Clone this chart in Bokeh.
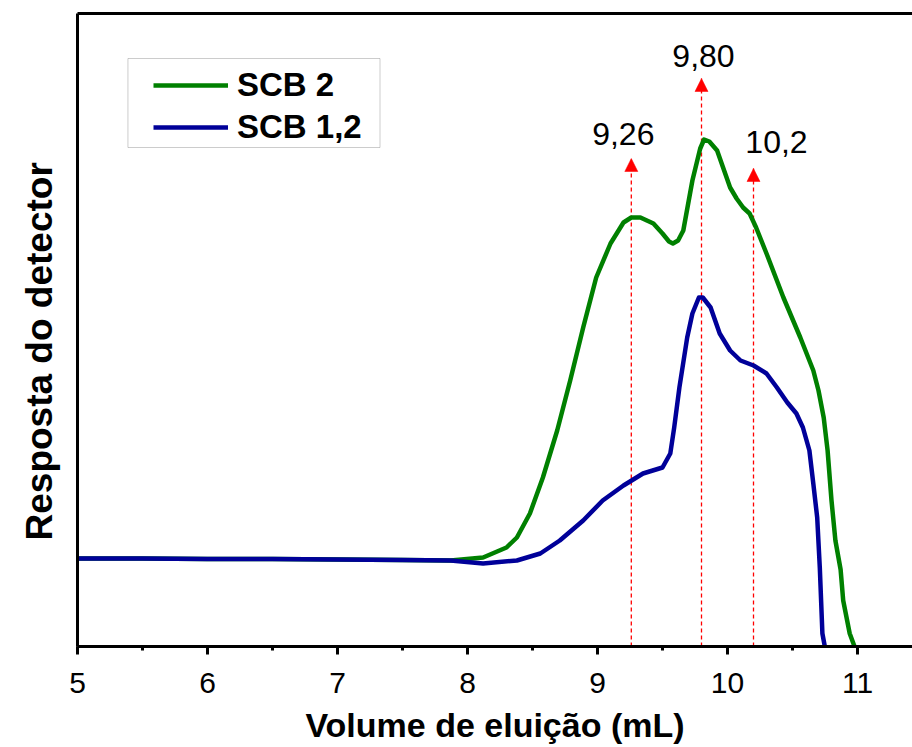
from bokeh.plotting import figure
from bokeh.models import (Legend, LegendItem, LinearAxis, FixedTicker, SingleIntervalTicker,
                          Arrow, NormalHead, Range1d, ColumnDataSource, Title, BoxAnnotation)
from bokeh.core.properties import value
from bokeh.embed import file_html
from bokeh.resources import INLINE

# ---- data ----
green_x = [5.0, 5.5, 6.0, 6.5, 7.0, 7.5, 7.87, 8.12, 8.30, 8.38, 8.48, 8.58, 8.69, 8.79, 8.89,
           8.99, 9.10, 9.20, 9.26, 9.33, 9.43, 9.50, 9.55, 9.58, 9.62, 9.66, 9.73, 9.79, 9.82,
           9.86, 9.92, 10.02, 10.07, 10.12, 10.17, 10.22, 10.30, 10.43, 10.56, 10.66, 10.70,
           10.74, 10.77, 10.80, 10.83, 10.87, 10.89, 10.94, 10.98]
green_y = [0.88, 0.88, 0.875, 0.875, 0.87, 0.865, 0.86, 0.89, 0.99, 1.09, 1.33, 1.69, 2.16, 2.66, 3.19,
           3.69, 4.03, 4.24, 4.29, 4.29, 4.23, 4.13, 4.05, 4.03, 4.06, 4.16, 4.66, 4.98, 5.07,
           5.05, 4.96, 4.59, 4.48, 4.39, 4.33, 4.19, 3.93, 3.49, 3.09, 2.76, 2.56,
           2.29, 1.96, 1.46, 1.06, 0.77, 0.46, 0.13, -0.01]

blue_x = [5.0, 5.5, 6.0, 6.5, 7.0, 7.5, 7.87, 8.12, 8.38, 8.56, 8.71, 8.89, 9.04, 9.20, 9.35,
          9.50, 9.56, 9.59, 9.63, 9.69, 9.73, 9.78, 9.81, 9.87, 9.94, 10.02, 10.10, 10.20,
          10.30, 10.38, 10.46, 10.53, 10.58, 10.63, 10.66, 10.69, 10.71, 10.73, 10.75]
blue_y = [0.88, 0.88, 0.875, 0.875, 0.87, 0.865, 0.86, 0.83, 0.86, 0.93, 1.06, 1.26, 1.46, 1.61, 1.73,
          1.79, 1.93, 2.19, 2.59, 3.09, 3.33, 3.49, 3.49, 3.39, 3.13, 2.96, 2.86, 2.81,
          2.73, 2.59, 2.44, 2.33, 2.19, 1.96, 1.63, 1.29, 0.79, 0.13, -0.01]

series_names = ["SCB 2", "SCB 1,2"]
peak_values = [9.26, 9.80, 10.2]
peak_labels = ["9,26", "9,80", "10,2"]

# annotation layout (arrow tip heights, label placement)
arrow_tops = [4.88, 5.68, 4.78]
label_y = [5.13, 5.91, 5.05]
label_dx = [-8, 2, 23]

FONT = "Liberation Sans"
RED = "#ff0000"

p = figure(width=912, height=747, output_backend="svg", toolbar_location=None,
           x_range=Range1d(5.0, 5.0 + 835 / 130.0), y_range=Range1d(0, 6.33),
           min_border_left=77, min_border_right=0, min_border_top=13, min_border_bottom=101,
           background_fill_color="white", border_fill_color="white")
p.outline_line_color = None
p.grid.visible = False

# peak markers: red dashed lines from the baseline with arrow heads
p.segment(x0=peak_values, y0=[0] * len(peak_values), x1=peak_values, y1=arrow_tops,
          line_color=RED, line_width=1.3, line_dash="4 3")
for xv, top in zip(peak_values, arrow_tops):
    p.add_layout(Arrow(x_start=xv, y_start=top - 0.05, x_end=xv, y_end=top,
                       line_alpha=0,
                       end=NormalHead(size=13, fill_color=RED, line_color=RED, line_width=0.5)))

# curves
r_green = p.line(green_x, green_y, line_color="#008000", line_width=4.5, line_join="round")
r_blue = p.line(blue_x, blue_y, line_color="#000099", line_width=4.5, line_join="round")

src = ColumnDataSource(dict(x=peak_values, y=label_y, t=peak_labels, dx=label_dx))
p.text(x="x", y="y", text="t", x_offset="dx", source=src, text_align="center",
       text_baseline="alphabetic", text_font=value(FONT), text_font_size="32px",
       text_color="black")

# axes
xa = p.xaxis[0]
xa.ticker = SingleIntervalTicker(interval=1, num_minor_ticks=2)
xa.axis_line_width = 3
xa.major_tick_line_width = 3
xa.minor_tick_line_width = 3
xa.major_tick_in = 0
xa.major_tick_out = 8
xa.minor_tick_in = 0
xa.minor_tick_out = 4
xa.major_label_text_font = FONT
xa.major_label_text_font_size = "30px"
xa.major_label_text_color = "black"
xa.major_label_standoff = 18
xa.axis_label = "Volume de eluição (mL)"
xa.axis_label_text_font = FONT
xa.axis_label_text_font_size = "34px"
xa.axis_label_text_font_style = "bold"
xa.axis_label_text_color = "black"
xa.axis_label_standoff = 10

ya = p.yaxis[0]
ya.ticker = FixedTicker(ticks=[])
ya.axis_line_width = 3
ya.major_tick_out = 0
ya.major_tick_in = 0
ya.minor_tick_out = 0
ya.minor_tick_in = 0
ya.major_label_standoff = 0
ya.major_label_text_font_size = "0px"

ylab = Title(text="Resposta do detector", align="left", offset=106,
             vertical_align="middle",
             text_font=FONT, text_font_size="37px", text_font_style="bold",
             text_color="black", standoff=33)
p.add_layout(ylab, "left")

top_axis = LinearAxis(ticker=FixedTicker(ticks=[]), axis_line_width=3,
                      major_tick_out=0, major_tick_in=0, minor_tick_out=0, minor_tick_in=0,
                      major_label_standoff=0, major_label_text_font_size="0px")
p.add_layout(top_axis, "above")

# legend frame (drawn in data units) and legend entries
p.add_layout(BoxAnnotation(left=5.388, right=7.327, top=5.88, bottom=4.99,
                           fill_alpha=0, line_color="#555555", line_width=1))
legend = Legend(items=[LegendItem(label=series_names[0], renderers=[r_green]),
                       LegendItem(label=series_names[1], renderers=[r_blue])],
                location=(76, 500), orientation="vertical",
                label_text_font=FONT, label_text_font_size="33px", label_text_font_style="bold",
                label_text_color="black", glyph_width=75, glyph_height=36, label_height=36,
                label_standoff=9, spacing=4, padding=0, margin=0,
                border_line_color=None, background_fill_alpha=0)
p.add_layout(legend)

open("out.html", "w").write(file_html(p, INLINE))
